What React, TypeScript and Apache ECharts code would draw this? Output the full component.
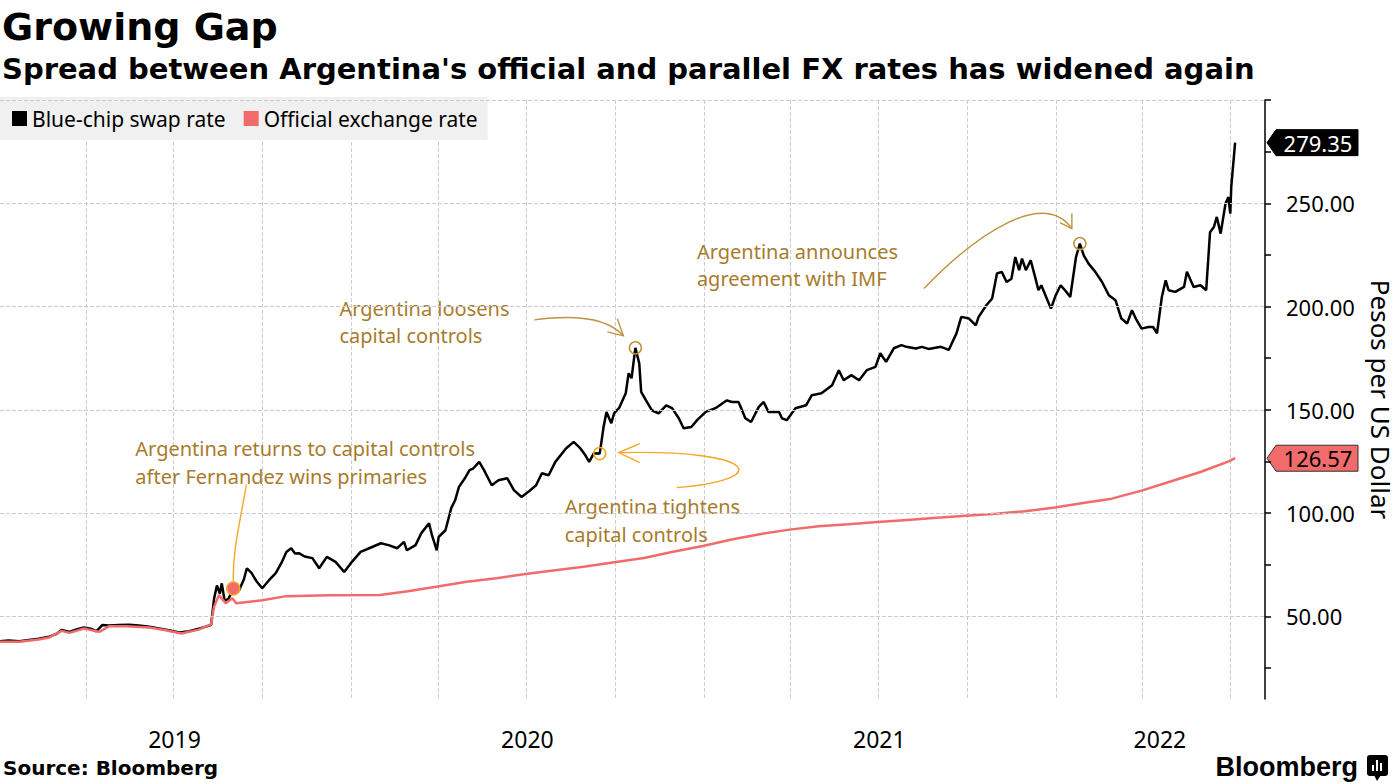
import React, { useEffect, useRef } from "react";
import * as echarts from "echarts";

// ---------- DATA ----------
const ccDates = [
  "2019-01-02","2019-01-11","2019-01-22","2019-02-01","2019-02-11","2019-02-22","2019-03-01","2019-03-07","2019-03-15","2019-03-23",
  "2019-03-30","2019-04-06","2019-04-12","2019-04-18","2019-04-25","2019-05-05","2019-05-16","2019-05-26","2019-06-06","2019-06-16",
  "2019-06-26","2019-07-07","2019-07-17","2019-07-27","2019-08-07","2019-08-09","2019-08-12","2019-08-15","2019-08-18","2019-08-20",
  "2019-08-23","2019-08-27","2019-09-01","2019-09-07","2019-09-12","2019-09-15","2019-09-20","2019-09-25","2019-10-01","2019-10-08",
  "2019-10-15","2019-10-21","2019-10-26","2019-10-31","2019-11-04","2019-11-08","2019-11-14","2019-11-22","2019-11-29","2019-12-07",
  "2019-12-16","2019-12-25","2020-01-02","2020-01-11","2020-01-23","2020-02-01","2020-02-09","2020-02-18","2020-02-25","2020-02-28",
  "2020-03-08","2020-03-14","2020-03-22","2020-03-25","2020-03-30","2020-04-01","2020-04-08","2020-04-14","2020-04-18","2020-04-22",
  "2020-04-29","2020-05-03","2020-05-07","2020-05-13","2020-05-18","2020-05-26","2020-06-02","2020-06-11","2020-06-18","2020-06-26",
  "2020-07-03","2020-07-11","2020-07-17","2020-07-24","2020-07-31","2020-08-11","2020-08-19","2020-08-26","2020-08-31","2020-09-04",
  "2020-09-09","2020-09-15","2020-09-19","2020-09-22","2020-09-27","2020-09-30","2020-10-05","2020-10-12","2020-10-15","2020-10-18",
  "2020-10-22","2020-10-26","2020-10-28","2020-11-02","2020-11-08","2020-11-15","2020-11-23","2020-11-29","2020-12-06","2020-12-11",
  "2020-12-19","2020-12-25","2021-01-03","2021-01-13","2021-01-25","2021-01-30","2021-02-06","2021-02-13","2021-02-19","2021-02-27",
  "2021-03-04","2021-03-09","2021-03-20","2021-03-23","2021-03-28","2021-04-06","2021-04-17","2021-04-23","2021-05-03","2021-05-14",
  "2021-05-21","2021-05-26","2021-06-03","2021-06-11","2021-06-19","2021-06-28","2021-07-03","2021-07-09","2021-07-17","2021-07-25",
  "2021-07-30","2021-08-09","2021-08-15","2021-08-22","2021-09-04","2021-09-12","2021-09-20","2021-09-25","2021-10-03","2021-10-10",
  "2021-10-13","2021-10-21","2021-10-27","2021-11-01","2021-11-06","2021-11-11","2021-11-16","2021-11-20","2021-11-24","2021-11-27",
  "2021-12-01","2021-12-06","2021-12-11","2021-12-14","2021-12-17","2021-12-22","2021-12-27","2022-01-01","2022-01-06","2022-01-12",
  "2022-01-16","2022-01-22","2022-01-26","2022-01-30","2022-02-04","2022-02-11","2022-02-18","2022-02-25","2022-03-04","2022-03-10",
  "2022-03-16","2022-03-21","2022-03-25","2022-03-31","2022-04-07","2022-04-12","2022-04-16","2022-04-21","2022-04-25","2022-04-28",
  "2022-05-05","2022-05-14","2022-05-17","2022-05-24","2022-05-31","2022-06-06","2022-06-10","2022-06-14","2022-06-17","2022-06-21",
  "2022-06-26","2022-06-29","2022-07-01","2022-07-02","2022-07-06"
];
const ccValues = [
  38.0, 38.3, 38.0, 38.6, 39.2, 40.2, 41.4, 43.4, 42.5, 43.8,
  44.6, 44.0, 42.8, 45.8, 45.6, 45.8, 45.9, 45.6, 45.0, 44.2,
  43.3, 42.2, 42.8, 44.0, 45.5, 46.0, 58.5, 65.0, 61.0, 66.0,
  57.5, 58.5, 63.5, 62.7, 68.0, 73.3, 70.9, 67.0, 63.6, 67.5,
  70.9, 76.0, 81.2, 83.0, 80.5, 80.6, 79.0, 78.2, 73.3, 78.8,
  76.4, 71.5, 76.4, 81.2, 83.6, 85.4, 84.5, 83.0, 86.1, 82.0,
  84.5, 90.3, 95.1, 89.3, 82.0, 88.5, 91.7, 102.4, 106.2, 112.7,
  117.5, 120.8, 121.7, 124.8, 120.8, 113.5, 115.9, 116.9, 111.1, 107.8,
  110.3, 113.5, 119.3, 118.3, 124.8, 131.3, 134.5, 131.3, 128.1, 124.8,
  129.0, 128.8, 141.7, 149.0, 143.5, 148.4, 150.8, 158.0, 167.7, 165.3,
  180.0, 172.5, 158.7, 154.6, 149.8, 148.3, 152.2, 150.8, 145.9, 141.1,
  141.7, 145.0, 149.0, 150.8, 154.6, 153.8, 153.8, 145.9, 144.1, 151.4,
  153.8, 149.0, 149.0, 145.9, 145.0, 150.8, 152.2, 157.1, 158.0, 161.9,
  169.2, 164.3, 166.8, 164.3, 169.2, 170.8, 177.4, 173.2, 179.8, 181.3,
  180.5, 179.7, 180.5, 179.5, 180.5, 179.0, 187.0, 195.0, 194.2, 190.9,
  195.0, 200.6, 203.9, 216.0, 216.8, 211.9, 213.5, 224.0, 217.6, 223.2,
  217.6, 222.4, 213.5, 207.9, 210.3, 204.6, 199.0, 205.5, 210.3, 207.1,
  204.6, 224.0, 230.5, 224.8, 220.8, 216.8, 211.9, 205.5, 203.0, 194.2,
  191.8, 198.2, 194.2, 189.3, 190.1, 190.1, 187.0, 204.6, 212.7, 207.9,
  207.1, 209.5, 216.8, 209.5, 210.3, 207.9, 236.0, 238.5, 243.4, 235.3,
  249.8, 253.0, 245.0, 257.9, 279.35
];

const offDates = [
  "2019-01-02","2019-01-22","2019-02-11","2019-02-22","2019-03-07","2019-03-15","2019-03-30","2019-04-15","2019-04-25","2019-05-13",
  "2019-06-06","2019-06-23","2019-07-09","2019-07-27","2019-08-09","2019-08-12","2019-08-17","2019-08-24","2019-08-31","2019-09-04",
  "2019-10-01","2019-10-26","2019-12-09","2020-01-31","2020-02-29","2020-03-31","2020-04-30","2020-05-31","2020-06-30","2020-07-31",
  "2020-08-31","2020-09-30","2020-10-31","2020-11-30","2020-12-31","2021-01-31","2021-02-28","2021-03-31","2021-04-30","2021-05-31",
  "2021-06-30","2021-07-31","2021-08-31","2021-09-30","2021-10-31","2021-11-30","2021-12-31","2022-01-31","2022-02-28","2022-03-31",
  "2022-04-30","2022-05-31","2022-06-30","2022-07-06"
];
const offValues = [
  37.7, 37.7, 38.8, 39.8, 43.0, 42.0, 44.1, 42.5, 45.2, 45.2,
  44.6, 43.3, 41.7, 43.6, 46.2, 54.6, 60.3, 56.4, 58.8, 56.4,
  57.8, 59.8, 60.2, 60.3, 62.2, 64.5, 66.8, 68.5, 70.5, 72.3,
  74.1, 76.2, 78.3, 81.3, 84.1, 87.3, 89.8, 92.0, 93.6, 94.6,
  95.7, 96.7, 97.7, 98.7, 99.7, 100.9, 102.7, 105.0, 107.0, 110.9,
  115.3, 119.9, 125.2, 126.57
];

const seriesNames = ["Blue-chip swap rate", "Official exchange rate"];
const xStart = "2019-01-02";
const xEnd = "2022-08-06";
const quarterTicks = [
  "2019-04-01","2019-07-01","2019-10-01","2020-01-01","2020-04-01","2020-07-01","2020-10-01",
  "2021-01-01","2021-04-01","2021-07-01","2021-10-01","2022-01-01","2022-04-01","2022-07-01"
];
const yearLabelDates = ["2019-07-02", "2020-07-02", "2021-07-02", "2022-04-19"];
const yMin = 10;
const yMax = 300;
const yTickValues = [25, 50, 75, 100, 125, 150, 175, 200, 225, 250, 275, 300];
const yLabelValues = [50, 100, 150, 200, 250];
const yGridValues = [50, 100, 150, 200, 250, 300];

const annotDates = ["2019-09-01", "2020-09-15", "2020-10-22", "2022-01-26"];
const annotValues = [63.5, 128.8, 180.0, 230.5];
const annotTexts = [
  ["Argentina returns to capital controls", "after Fernandez wins primaries"],
  ["Argentina tightens", "capital controls"],
  ["Argentina loosens", "capital controls"],
  ["Argentina announces", "agreement with IMF"],
];

// ---------- STYLE / LAYOUT ----------
const FONT = '"Noto Sans", "Open Sans", sans-serif';
const BOLD = '"DejaVu Sans", sans-serif';
const RED = "#f26b6b";
const ORANGE = "#f5a623";
const BROWN = "#c0923f";
const TEXTBROWN = "#a87b2c";

const annotLayout = [
  { text: [-98, -140, -112], curve: [[13, -104], [7, -67], [-1, -37], [0, -7]], head: null as null | number[][], color: ORANGE },
  { text: [-35, 53, 81], curve: [[77, 34], [174, 26], [159, -4], [21, -1]], head: [[40, -10], [19, -1], [40, 9]], color: ORANGE },
  { text: [-296, -39, -12], curve: [[-101, -28], [-56, -34], [-26, -28], [-12, -12]], head: [[-18, -29], [-12, -12], [-28, -16]], color: BROWN },
  { text: [-383, 8, 35], curve: [[-156, 45], [-101, -12], [-36, -54], [-8, -15]], head: [[-8, -30], [-8, -15], [-20, -21]], color: BROWN },
];

const t = (s: string) => Date.parse(s + "T00:00:00Z");

export default function App() {
  const ref = useRef<HTMLDivElement>(null);

  useEffect(() => {
    if (!ref.current) return;
    const chart = echarts.init(ref.current, null, { renderer: "svg" });
    const ccData = ccDates.map((d, i) => [t(d), ccValues[i]]);
    const offData = offDates.map((d, i) => [t(d), offValues[i]]);

    const markPoints = annotDates.map((d, i) => ({
      coord: [t(d), annotValues[i]],
      symbol: "circle",
      symbolSize: i === 0 ? 13 : 12,
      itemStyle: {
        color: i === 0 ? RED : "rgba(255,255,255,0)",
        borderColor: annotLayout[i].color,
        borderWidth: 1.5,
      },
      label: { show: false },
    }));

    const option: any = {
      animation: false,
      backgroundColor: "#ffffff",
      title: [
        { text: "Growing Gap", left: 0, top: 8, padding: [0, 2], textStyle: { fontFamily: BOLD, fontWeight: "bold", fontSize: 38, color: "#000" } },
        {
          text: "Spread between Argentina's official and parallel FX rates has widened again",
          left: 0, top: 54, padding: [0, 2],
          textStyle: { fontFamily: BOLD, fontWeight: "bold", fontSize: 29, color: "#000" },
        },
        { text: "Source: Bloomberg", left: 0, top: 758, padding: [0, 3], textStyle: { fontFamily: BOLD, fontWeight: "bold", fontSize: 20, color: "#000" } },
      ],
      legend: {
        data: seriesNames,
        left: 0,
        top: 97,
        icon: "rect",
        itemWidth: 15,
        itemHeight: 15,
        itemGap: 18,
        padding: [11, 10, 11, 12],
        backgroundColor: "#f0f0f0",
        textStyle: { fontSize: 21, color: "#000", fontFamily: FONT },
      },
      grid: { left: 0, right: 130, top: 100, bottom: 85, containLabel: false, outerBoundsMode: "none" },
      xAxis: {
        type: "value",
        min: t(xStart),
        max: t(xEnd),
        axisLine: { show: false },
        axisTick: { show: false, customValues: quarterTicks.map(t) },
        splitLine: { show: true, lineStyle: { type: "dashed", color: "#cccccc", width: 1 } },
        axisLabel: {
          customValues: yearLabelDates.map(t),
          formatter: (v: number) => String(new Date(v).getUTCFullYear()),
          fontSize: 23,
          color: "#000",
          fontFamily: FONT,
          margin: 28,
        },
      },
      yAxis: {
        type: "value",
        position: "right",
        min: yMin,
        max: yMax,
        axisLine: { show: true, lineStyle: { color: "#000", width: 1.5 } },
        axisTick: { show: true, length: 6, customValues: yTickValues, lineStyle: { color: "#000", width: 1.5 } },
        axisLabel: {
          customValues: yLabelValues,
          formatter: (v: number) => v.toFixed(2),
          fontSize: 22,
          color: "#000",
          fontFamily: FONT,
          margin: 21,
        },
        splitLine: { show: false },
        name: "Pesos per US Dollar",
        nameLocation: "middle",
        nameRotate: -90,
        nameGap: 92,
        nameTextStyle: { fontSize: 26, color: "#000", fontFamily: FONT, lineHeight: 30 },
      },
      series: [
        {
          name: seriesNames[0],
          type: "line",
          data: ccData,
          symbol: "none",
          showSymbol: false,
          lineStyle: { color: "#000", width: 2.5 },
          itemStyle: { color: "#000" },
          z: 3,
          markLine: {
            silent: true,
            symbol: ["none", "none"],
            label: { show: false },
            lineStyle: { type: "dashed", color: "#cccccc", width: 1 },
            data: yGridValues.map((v) => ({ yAxis: v })),
          },
        },
        {
          name: seriesNames[1],
          type: "line",
          data: offData,
          symbol: "none",
          showSymbol: false,
          lineStyle: { color: RED, width: 2.5 },
          itemStyle: { color: RED },
          z: 4,
          markPoint: { silent: true, data: markPoints },
        },
      ],
    };
    chart.setOption(option);

    const px = (d: string, v: number) => chart.convertToPixel({ gridIndex: 0 }, [t(d), v]) as number[];
    const axisX = px(xEnd, yMin)[0];

    const tag = (v: number, bg: string, fg: string, stroke: string) => {
      const y = px(xEnd, v)[1];
      const x = axisX + 2;
      return {
        type: "group",
        children: [
          {
            type: "polygon",
            shape: { points: [[x, y], [x + 9, y - 13], [x + 91, y - 13], [x + 91, y + 13], [x + 9, y + 13]] },
            style: { fill: bg, stroke, lineWidth: 1 },
          },
          {
            type: "text",
            x: x + 51,
            y: y,
            style: { text: v.toFixed(2), fill: fg, fontSize: 22, fontFamily: FONT, align: "center", verticalAlign: "middle" },
          },
        ],
      };
    };

    const graphics: any[] = [];
    annotDates.forEach((d, i) => {
      const [ax, ay] = px(d, annotValues[i]);
      const L = annotLayout[i];
      const c = L.curve;
      graphics.push({
        type: "bezierCurve",
        shape: {
          x1: ax + c[0][0], y1: ay + c[0][1],
          cpx1: ax + c[1][0], cpy1: ay + c[1][1],
          cpx2: ax + c[2][0], cpy2: ay + c[2][1],
          x2: ax + c[3][0], y2: ay + c[3][1],
        },
        style: { stroke: L.color, lineWidth: 1.4, fill: "none" },
      });
      if (L.head) {
        graphics.push({
          type: "polyline",
          shape: { points: L.head.map((p) => [ax + p[0], ay + p[1]]) },
          style: { stroke: L.color, lineWidth: 1.4, fill: "none" },
        });
      }
      annotTexts[i].forEach((line, j) => {
        graphics.push({
          type: "text",
          x: ax + L.text[0],
          y: ay + L.text[j + 1],
          style: { text: line, fill: TEXTBROWN, fontSize: 20, fontFamily: FONT, align: "left", verticalAlign: "middle" },
        });
      });
    });

    graphics.push(tag(ccValues[ccValues.length - 1], "#000", "#fff", "#000"));
    graphics.push(tag(offValues[offValues.length - 1], RED, "#000", "#333"));

    // Bloomberg logo
    graphics.push({
      type: "text",
      x: 1358,
      y: 767,
      style: { text: "Bloomberg", fill: "#000", fontSize: 27, fontWeight: "bold", fontFamily: '"Liberation Sans", Arial, sans-serif', align: "right", verticalAlign: "middle" },
    });
    graphics.push({
      type: "group",
      children: [
        { type: "rect", shape: { x: 1367, y: 755, width: 21, height: 21, r: 3 }, style: { fill: "#000" } },
        { type: "polygon", shape: { points: [[1374, 775], [1381, 775], [1377, 781]] }, style: { fill: "#000" } },
        { type: "rect", shape: { x: 1372, y: 765, width: 2, height: 6 }, style: { fill: "#fff" } },
        { type: "rect", shape: { x: 1376, y: 760, width: 2, height: 11 }, style: { fill: "#fff" } },
        { type: "rect", shape: { x: 1380, y: 763, width: 2, height: 8 }, style: { fill: "#fff" } },
      ],
    });

    chart.setOption({ graphic: graphics });

    return () => chart.dispose();
  }, []);

  return (
    <div
      ref={ref}
      style={{ position: "absolute", left: 0, top: 0, width: 1395, height: 784, background: "#fff" }}
    />
  );
}
